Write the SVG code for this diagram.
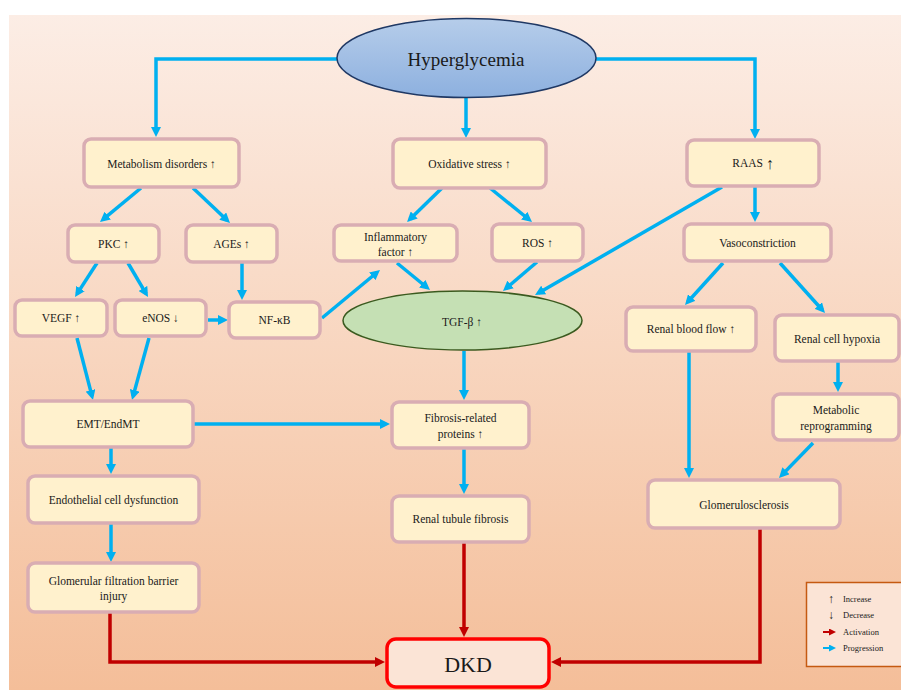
<svg xmlns="http://www.w3.org/2000/svg" width="901" height="690" viewBox="0 0 901 690">
<defs>
<linearGradient id="bg" x1="0" y1="0" x2="0" y2="1">
<stop offset="0" stop-color="#fcede5"/>
<stop offset="1" stop-color="#f4be99"/>
</linearGradient>
<linearGradient id="hg" x1="0" y1="0" x2="0" y2="1">
<stop offset="0" stop-color="#b6cdea"/>
<stop offset="1" stop-color="#8db0df"/>
</linearGradient>
<marker id="aB" markerUnits="userSpaceOnUse" markerWidth="10" markerHeight="10" refX="6" refY="5" orient="auto"><path d="M0,0 L10,5 L0,10 z" fill="#00b0f0"/></marker>
<marker id="aR" markerUnits="userSpaceOnUse" markerWidth="10" markerHeight="10" refX="6" refY="5" orient="auto"><path d="M0,0 L10,5 L0,10 z" fill="#c00000"/></marker>
<marker id="sB" markerUnits="userSpaceOnUse" markerWidth="7" markerHeight="7" refX="3" refY="3.5" orient="auto"><path d="M0,0 L7,3.5 L0,7 z" fill="#00b0f0"/></marker>
<marker id="sR" markerUnits="userSpaceOnUse" markerWidth="7" markerHeight="7" refX="3" refY="3.5" orient="auto"><path d="M0,0 L7,3.5 L0,7 z" fill="#c00000"/></marker>
</defs>
<style>
.box{fill:#fff1cd;stroke:#d9adb3;stroke-width:3.5}
.t{font-family:"Liberation Serif","Times New Roman",serif;font-size:11.5px;fill:#1a1a1a;text-anchor:middle;dominant-baseline:central}
.b{fill:none;stroke:#00b0f0;stroke-width:3.5;marker-end:url(#aB)}
.r{fill:none;stroke:#c00000;stroke-width:3.5;marker-end:url(#aR)}
.lg{font-family:"Liberation Serif","Times New Roman",serif;font-size:8.5px;fill:#1a1a1a;dominant-baseline:central}
.ls{font-family:"Liberation Serif","Times New Roman",serif;font-size:12px;fill:#1a1a1a;dominant-baseline:central;text-anchor:middle}
</style>
<rect x="9" y="15" width="892" height="675" fill="url(#bg)"/>

<g id="connectors">
<path class="b" d="M337,59 H156 V133"/>
<path class="b" d="M466,97 V134"/>
<path class="b" d="M596,59 H755 V135"/>
<path class="b" d="M141,188 L103.1,219.4"/>
<path class="b" d="M193,188 L227.1,220.2"/>
<path class="b" d="M442,188 L409.9,219.2"/>
<path class="b" d="M490,188 L528.9,219.5"/>
<path class="b" d="M722,187 L538.5,293"/>
<path class="b" d="M755,187 V218"/>
<path class="b" d="M97,263 L77.2,293.6"/>
<path class="b" d="M128,263 L146,293.6"/>
<path class="b" d="M242,263 V296"/>
<path class="b" d="M208,320 H224"/>
<path class="b" d="M322,318 L376.9,272.5"/>
<path class="b" d="M397,263 L426.9,287.5"/>
<path class="b" d="M537,262 L506,288.4"/>
<path class="b" d="M723,263 L687.7,302"/>
<path class="b" d="M780,263 L822.3,310"/>
<path class="b" d="M464,351 V396"/>
<path class="b" d="M838,362 V388"/>
<path class="b" d="M77,338 L92,396.1"/>
<path class="b" d="M149,338 L133.1,396.1"/>
<path class="b" d="M194,424 H386"/>
<path class="b" d="M111,448 V470"/>
<path class="b" d="M111,524 V558"/>
<path class="b" d="M464,449 V490"/>
<path class="b" d="M689,352 V474"/>
<path class="b" d="M813,443 L781.8,475.1"/>
<path class="r" d="M110,613 V662 H381"/>
<path class="r" d="M464,543 V633"/>
<path class="r" d="M760,529 V662 H555"/>
</g>

<g id="hyperglycemia">
<ellipse cx="466.5" cy="58" rx="129.5" ry="39.5" fill="url(#hg)" stroke="#1f3864" stroke-width="1.5"/>
<text class="t" x="466" y="59" style="font-size:19px">Hyperglycemia</text>
</g>
<g id="metabolism"><rect class="box" x="84" y="139" width="155" height="48" rx="7"/><text class="t" x="161.5" y="164">Metabolism disorders ↑</text></g>
<g id="oxidative"><rect class="box" x="393" y="139" width="153" height="49" rx="7"/><text class="t" x="469.5" y="164">Oxidative stress ↑</text></g>
<g id="raas"><rect class="box" x="687" y="140" width="132" height="46" rx="7"/><text class="t" x="753" y="163">RAAS <tspan style="font-size:16px">↑</tspan></text></g>
<g id="pkc"><rect class="box" x="68" y="225" width="91" height="37" rx="7"/><text class="t" x="113.5" y="244">PKC ↑</text></g>
<g id="ages"><rect class="box" x="186" y="225" width="91" height="37" rx="7"/><text class="t" x="231.5" y="244">AGEs ↑</text></g>
<g id="inflammatory"><rect class="box" x="334" y="225" width="123" height="36" rx="7"/><text class="t" x="395.5" y="237">Inflammatory</text><text class="t" x="395.5" y="252">factor ↑</text></g>
<g id="ros"><rect class="box" x="492" y="224" width="91" height="37" rx="7"/><text class="t" x="537.5" y="243">ROS ↑</text></g>
<g id="vasoconstriction"><rect class="box" x="684" y="224" width="147" height="37" rx="7"/><text class="t" x="757.5" y="243">Vasoconstriction</text></g>
<g id="vegf"><rect class="box" x="15" y="300" width="92" height="36" rx="7"/><text class="t" x="61" y="318">VEGF ↑</text></g>
<g id="enos"><rect class="box" x="115" y="300" width="91" height="36" rx="7"/><text class="t" x="160.5" y="318">eNOS ↓</text></g>
<g id="nfkb"><rect class="box" x="229" y="302" width="91" height="36" rx="7"/><text class="t" x="274.5" y="320">NF-κB</text></g>
<g id="tgfb">
<ellipse cx="462.5" cy="320.5" rx="119.5" ry="29.5" fill="#c5e0b4" stroke="#3b5a1f" stroke-width="1.5"/>
<text class="t" x="462" y="322">TGF-β ↑</text>
</g>
<g id="renal-blood-flow"><rect class="box" x="626" y="307" width="130" height="44" rx="7"/><text class="t" x="691" y="329">Renal blood flow ↑</text></g>
<g id="renal-cell-hypoxia"><rect class="box" x="775" y="315" width="124" height="46" rx="7"/><text class="t" x="837" y="339">Renal cell hypoxia</text></g>
<g id="emt"><rect class="box" x="23" y="401" width="170" height="46" rx="7"/><text class="t" x="108" y="424">EMT/EndMT</text></g>
<g id="fibrosis-proteins"><rect class="box" x="392" y="402" width="137" height="46" rx="7"/><text class="t" x="460.5" y="418">Fibrosis-related</text><text class="t" x="460.5" y="434">proteins ↑</text></g>
<g id="metabolic-reprogramming"><rect class="box" x="773" y="394" width="126" height="46" rx="7"/><text class="t" x="836" y="410">Metabolic</text><text class="t" x="836" y="426">reprogramming</text></g>
<g id="endothelial"><rect class="box" x="28" y="476" width="171" height="47" rx="7"/><text class="t" x="113.5" y="500">Endothelial cell dysfunction</text></g>
<g id="renal-tubule-fibrosis"><rect class="box" x="392" y="496" width="137" height="46" rx="7"/><text class="t" x="460.5" y="519">Renal tubule fibrosis</text></g>
<g id="glomerulosclerosis"><rect class="box" x="648" y="480" width="192" height="48" rx="7"/><text class="t" x="744" y="505">Glomerulosclerosis</text></g>
<g id="gfb-injury"><rect class="box" x="28" y="563" width="171" height="49" rx="7"/><text class="t" x="113.5" y="581">Glomerular filtration barrier</text><text class="t" x="113.5" y="596">injury</text></g>
<g id="dkd"><rect x="387" y="639" width="162" height="48" rx="9" fill="#fbe4d6" stroke="#ff0000" stroke-width="3.5"/><text class="t" x="468" y="664" style="font-size:22px">DKD</text></g>

<g id="legend">
<rect x="806.5" y="582.5" width="96" height="84" fill="#fbe4d6" stroke="#c55a11" stroke-width="1.5"/>
<text class="ls" x="831" y="599">↑</text><text class="lg" x="843" y="599">Increase</text>
<text class="ls" x="831" y="615">↓</text><text class="lg" x="843" y="615">Decrease</text>
<path d="M823,632 H832" stroke="#c00000" stroke-width="2" marker-end="url(#sR)"/><text class="lg" x="843" y="632">Activation</text>
<path d="M823,648 H832" stroke="#00b0f0" stroke-width="2" marker-end="url(#sB)"/><text class="lg" x="843" y="648">Progression</text>
</g>
</svg>
